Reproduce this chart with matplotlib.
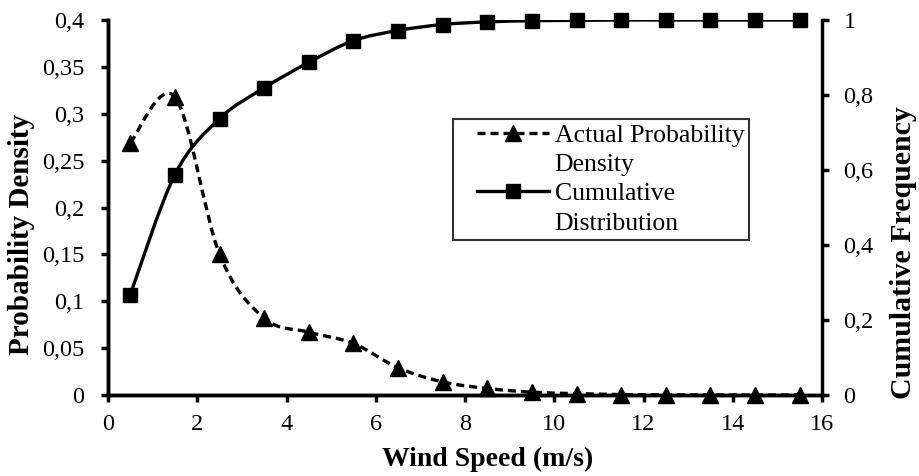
import numpy as np
import matplotlib
matplotlib.use("Agg")
import matplotlib.pyplot as plt
from matplotlib.path import Path
from matplotlib.patches import PathPatch
from matplotlib.lines import Line2D
from matplotlib.legend_handler import HandlerLine2D
from matplotlib.ticker import FuncFormatter, MultipleLocator

plt.rcParams["font.family"] = ["Liberation Serif", "DejaVu Serif"]

# wind speed bin centres (m/s)
wind_speed = [0.5, 1.5, 2.5, 3.5, 4.5, 5.5, 6.5, 7.5, 8.5, 9.5, 10.5, 11.5, 12.5, 13.5, 14.5, 15.5]
# actual probability density (left axis)
prob_density = [0.269, 0.318, 0.150, 0.082, 0.067, 0.055, 0.029, 0.014, 0.007, 0.003, 0.0015,
                0.0005, 0.0002, 0.0001, 0.0, 0.0]
# cumulative distribution (right axis)
cumulative = [0.268, 0.588, 0.737, 0.819, 0.887, 0.945, 0.972, 0.988, 0.995, 0.998, 0.999,
              1.0, 1.0, 1.0, 1.0, 1.0]
legend_labels = ["Actual Probability", "Density", "Cumulative", "Distribution"]


def smooth_path(xs, ys):
    # Excel style smoothed line: cubic Bezier through the points
    pts = list(zip(xs, ys))
    verts = [pts[0]]
    codes = [Path.MOVETO]
    n = len(pts)
    for i in range(n - 1):
        p0 = pts[i - 1] if i > 0 else pts[i]
        p1 = pts[i]
        p2 = pts[i + 1]
        p3 = pts[i + 2] if i + 2 < n else pts[i + 1]
        c1 = (p1[0] + (p2[0] - p0[0]) / 6, p1[1] + (p2[1] - p0[1]) / 6)
        c2 = (p2[0] - (p3[0] - p1[0]) / 6, p2[1] - (p3[1] - p1[1]) / 6)
        verts += [c1, c2, p2]
        codes += [Path.CURVE4] * 3
    return Path(verts, codes)


def comma_fmt(v, pos):
    return f"{v:g}".replace(".", ",")


W, H = 919, 476
fig = plt.figure(figsize=(W / 100, H / 100), dpi=100)
ax = fig.add_axes([108 / W, 1 - 395 / H, 714 / W, 375 / H])
ax2 = ax.twinx()

lw = 2.4
dens_style = dict(color="black", lw=lw, ls=(0, (2.4, 1.5)))
cum_style = dict(color="black", lw=lw, ls="-")
tri_ms, sq_ms = 12, 10

ax.add_patch(PathPatch(smooth_path(wind_speed, prob_density), fill=False,
                       capstyle="butt", **dens_style))
ax.plot(wind_speed, prob_density, ls="none", marker="^", ms=tri_ms, color="black",
        clip_on=False, zorder=4)

ax2.add_patch(PathPatch(smooth_path(wind_speed, cumulative), fill=False, **cum_style))
ax2.plot(wind_speed, cumulative, ls="none", marker="s", ms=sq_ms, color="black",
         clip_on=False, zorder=4)

ax.set_xlim(0, 16)
ax.set_ylim(0, 0.4)
ax2.set_ylim(0, 1)
ax.xaxis.set_major_locator(MultipleLocator(2))
ax.yaxis.set_major_locator(MultipleLocator(0.05))
ax2.yaxis.set_major_locator(MultipleLocator(0.2))
ax.yaxis.set_major_formatter(FuncFormatter(comma_fmt))
ax2.yaxis.set_major_formatter(FuncFormatter(comma_fmt))

for a in (ax, ax2):
    a.spines["top"].set_visible(False)
    for s in ("left", "right", "bottom"):
        a.spines[s].set_linewidth(2.5)
    a.tick_params(direction="out", length=5, width=2.5, labelsize=17.5)
ax.spines["right"].set_visible(False)
ax.tick_params(axis="x", pad=9)
ax.tick_params(axis="y", pad=12)
ax2.tick_params(axis="y", pad=10.5)

ax.set_xlabel("Wind Speed (m/s)", fontsize=20, fontweight="bold")
ax.xaxis.set_label_coords(0.532, -0.139)
ax.set_ylabel("Probability Density", fontsize=21, fontweight="bold")
ax.yaxis.set_label_coords(-0.102, 0.429)
ax2.set_ylabel("Cumulative Frequency", fontsize=21.5, fontweight="bold")
ax2.yaxis.set_label_coords(1.095, 0.381)

# legend: handle on the first line of each two-line label
fs = 18.5
fs_px = fs * 100 / 72
pad = 18.5 / fs_px
hlen = 72 / fs_px + pad
htp = 6 / fs_px
blank = Line2D([], [], ls="none")
handles = [
    Line2D([], [], marker="^", ms=tri_ms, **dens_style), blank,
    Line2D([], [], marker="s", ms=sq_ms, **cum_style), blank,
]
hmap = {h: HandlerLine2D(xpad=pad) for h in handles}
leg = ax2.legend(handles, legend_labels, handler_map=hmap,
                 loc="upper left", bbox_to_anchor=(453 / W, 1 - 119 / H),
                 bbox_transform=fig.transFigure, fontsize=fs,
                 frameon=True, fancybox=False, handlelength=hlen, handletextpad=htp,
                 borderpad=0.2, labelspacing=0.24, borderaxespad=0)
leg.get_frame().set_edgecolor("black")
leg.get_frame().set_linewidth(1.5)

fig.savefig("out.png", dpi=100)
